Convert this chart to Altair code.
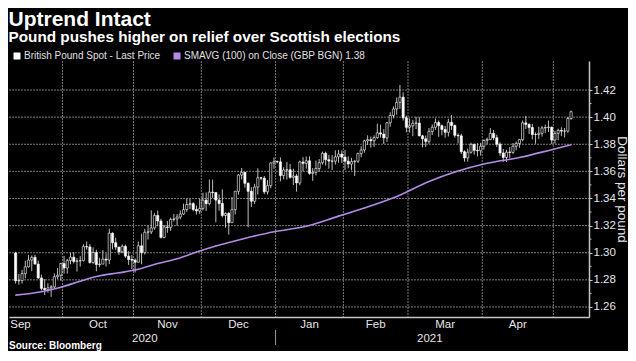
import altair as alt
import pandas as pd

# ---------------- data ----------------
first_open = 1.2998
close = [
    # Sep 2020
    1.2793, 1.2795, 1.2846, 1.2896, 1.2946, 1.2966, 1.2916, 1.2814, 1.2737, 1.2728, 1.2741, 1.2748, 1.2823, 1.2834, 1.2920,
    # Oct
    1.2887, 1.2942, 1.2967, 1.2936, 1.2940, 1.2941, 1.3045, 1.3043, 1.2928, 1.3002, 1.2913, 1.2916, 1.2953, 1.2946, 1.3144,
    1.3074, 1.3042, 1.3007, 1.3047, 1.2975, 1.2950, 1.2945,
    # Nov
    1.2930, 1.3051, 1.3000, 1.3151, 1.3154, 1.3183, 1.3275, 1.3234, 1.3113, 1.3190, 1.3187, 1.3246, 1.3249, 1.3263, 1.3285,
    1.3318, 1.3356, 1.3362, 1.3319, 1.3308, 1.3327,
    # Dec
    1.3388, 1.3362, 1.3447, 1.3444, 1.3388, 1.3363, 1.3275, 1.3290, 1.3222, 1.3318, 1.3453, 1.3573, 1.3593, 1.3512, 1.3453,
    1.3380, 1.3484, 1.3553, 1.3550, 1.3449, 1.3495, 1.3661, 1.3672,
    # Jan 2021
    1.3670, 1.3569, 1.3610, 1.3612, 1.3556, 1.3566, 1.3515, 1.3669, 1.3659, 1.3678, 1.3585, 1.3593, 1.3621, 1.3664, 1.3733,
    1.3686, 1.3676, 1.3675, 1.3707, 1.3728, 1.3705,
    # Feb
    1.3675, 1.3654, 1.3672, 1.3675, 1.3731, 1.3758, 1.3825, 1.3834, 1.3826, 1.3849, 1.3884, 1.3875, 1.3847, 1.3959, 1.4012,
    1.4060, 1.4109, 1.4147, 1.3995, 1.3925,
    # Mar
    1.3936, 1.3955, 1.3956, 1.3862, 1.3840, 1.3821, 1.3895, 1.3925, 1.3960, 1.3937, 1.3909, 1.3888, 1.3962, 1.3938, 1.3866,
    1.3862, 1.3745, 1.3699, 1.3741, 1.3799, 1.3755, 1.3752, 1.3785,
    # Apr
    1.3828, 1.3835, 1.3880, 1.3848, 1.3800, 1.3736, 1.3703, 1.3742, 1.3740, 1.3785, 1.3805, 1.3834, 1.3958, 1.3946, 1.3924,
    1.3872, 1.3872, 1.3881, 1.3920, 1.3923, 1.3926, 1.3831,
    # May
    1.3880, 1.3902, 1.3897, 1.3897, 1.3990, 1.4040,
]
high = [
    1.3007, 1.2843, 1.2874, 1.2941, 1.2984, 1.2980, 1.2985, 1.2942, 1.2838, 1.2805, 1.2775, 1.2761, 1.2848, 1.2887, 1.2926,
    1.2977, 1.2955, 1.2999, 1.3004, 1.2960, 1.2975, 1.3063, 1.3083, 1.3064, 1.3040, 1.3022, 1.2963, 1.3019, 1.2995, 1.3177,
    1.3150, 1.3110, 1.3043, 1.3062, 1.3060, 1.3011, 1.2983,
    1.2958, 1.3083, 1.3140, 1.3176, 1.3200, 1.3313, 1.3292, 1.3312, 1.3250, 1.3205, 1.3234, 1.3259, 1.3286, 1.3285, 1.3311,
    1.3362, 1.3399, 1.3398, 1.3373, 1.3348, 1.3399,
    1.3443, 1.3444, 1.3540, 1.3539, 1.3446, 1.3430, 1.3468, 1.3298, 1.3300, 1.3410, 1.3457, 1.3581, 1.3625, 1.3596, 1.3520,
    1.3483, 1.3508, 1.3623, 1.3560, 1.3566, 1.3535, 1.3667, 1.3703,
    1.3680, 1.3703, 1.3630, 1.3670, 1.3655, 1.3620, 1.3580, 1.3680, 1.3705, 1.3710, 1.3711, 1.3625, 1.3680, 1.3691, 1.3746,
    1.3745, 1.3720, 1.3720, 1.3755, 1.3758, 1.3755,
    1.3758, 1.3710, 1.3700, 1.3683, 1.3738, 1.3785, 1.3833, 1.3866, 1.3857, 1.3865, 1.3952, 1.3945, 1.3912, 1.3965, 1.4036,
    1.4079, 1.4145, 1.4237, 1.4183, 1.4010,
    1.3990, 1.3980, 1.4003, 1.4000, 1.3870, 1.3864, 1.3920, 1.3946, 1.3990, 1.3975, 1.3946, 1.3935, 1.3988, 1.4017, 1.3946,
    1.3880, 1.3877, 1.3755, 1.3768, 1.3811, 1.3805, 1.3808, 1.3810,
    1.3836, 1.3850, 1.3919, 1.3905, 1.3870, 1.3815, 1.3765, 1.3760, 1.3780, 1.3810, 1.3820, 1.3840, 1.3975, 1.4009, 1.3955,
    1.3951, 1.3888, 1.3930, 1.3935, 1.3945, 1.3975, 1.3931,
    1.3900, 1.3915, 1.3925, 1.3920, 1.4000, 1.4048,
]
low = [
    1.2773, 1.2764, 1.2773, 1.2812, 1.2891, 1.2864, 1.2915, 1.2807, 1.2721, 1.2688, 1.2706, 1.2675, 1.2736, 1.2806, 1.2795,
    1.2846, 1.2846, 1.2915, 1.2920, 1.2862, 1.2898, 1.2936, 1.3023, 1.2918, 1.2918, 1.2863, 1.2895, 1.2916, 1.2899, 1.2916,
    1.3025, 1.3021, 1.2984, 1.2996, 1.2962, 1.2910, 1.2880,
    1.2854, 1.2927, 1.2915, 1.2987, 1.3097, 1.3138, 1.3170, 1.3195, 1.3105, 1.3106, 1.3147, 1.3161, 1.3230, 1.3199, 1.3247,
    1.3279, 1.3302, 1.3322, 1.3306, 1.3282, 1.3287,
    1.3312, 1.3308, 1.3350, 1.3405, 1.3225, 1.3310, 1.3260, 1.3185, 1.3134, 1.3222, 1.3282, 1.3428, 1.3540, 1.3480, 1.3188,
    1.3338, 1.3360, 1.3430, 1.3535, 1.3432, 1.3430, 1.3475, 1.3619,
    1.3660, 1.3527, 1.3541, 1.3540, 1.3546, 1.3500, 1.3450, 1.3498, 1.3600, 1.3620, 1.3575, 1.3530, 1.3570, 1.3600, 1.3650,
    1.3643, 1.3619, 1.3610, 1.3650, 1.3664, 1.3662,
    1.3610, 1.3623, 1.3608, 1.3566, 1.3663, 1.3704, 1.3738, 1.3795, 1.3775, 1.3780, 1.3840, 1.3850, 1.3802, 1.3818, 1.3930,
    1.3990, 1.4019, 1.4061, 1.3975, 1.3888,
    1.3887, 1.3860, 1.3912, 1.3858, 1.3777, 1.3780, 1.3803, 1.3869, 1.3906, 1.3855, 1.3866, 1.3848, 1.3857, 1.3905, 1.3848,
    1.3806, 1.3727, 1.3671, 1.3672, 1.3731, 1.3723, 1.3710, 1.3716,
    1.3760, 1.3800, 1.3830, 1.3830, 1.3780, 1.3715, 1.3670, 1.3670, 1.3699, 1.3729, 1.3755, 1.3774, 1.3822, 1.3912, 1.3875,
    1.3836, 1.3804, 1.3838, 1.3856, 1.3884, 1.3890, 1.3800,
    1.3805, 1.3830, 1.3860, 1.3850, 1.3885, 1.3980,
]
# 100-day moving average, read at trading-day positions
sma_idx = [0, 8, 14, 20, 26, 32, 38, 44, 50, 56, 62, 70, 80, 90, 100, 108, 118, 128, 136, 146, 156, 166, 172]
sma_val = [1.2687, 1.2712, 1.2745, 1.2790, 1.2830, 1.2852, 1.2878, 1.2920, 1.2955, 1.3005, 1.3050, 1.3100, 1.3155,
           1.3195, 1.3270, 1.3330, 1.3415, 1.3525, 1.3595, 1.3660, 1.3702, 1.3760, 1.3796]

series_names = ["British Pound Spot - Last Price", "SMAVG (100)  on Close (GBP BGN) 1.38"]
series_colors = ["#ffffff", "#b38ae6"]
y_ticks = [1.26, 1.28, 1.30, 1.32, 1.34, 1.36, 1.38, 1.40, 1.42]
y_minor = [1.27, 1.29, 1.31, 1.33, 1.35, 1.37, 1.39, 1.41]
source_text = "Source: Bloomberg"

# ---------------- tables ----------------
n = len(close)
dates = pd.bdate_range("2020-09-10", periods=n)
df = pd.DataFrame({
    "idx": list(range(n)),
    "date": dates,
    "open": [first_open] + close[:-1],
    "high": high,
    "low": low,
    "close": close,
})
bounds = [i - 0.5 for i in range(1, n) if dates[i].month != dates[i - 1].month]
year_bound = [i - 0.5 for i in range(1, n) if dates[i].year != dates[i - 1].year][0]
x_end = n + 3

mrows = []
for (yy, mm), g in df.groupby([df["date"].dt.year, df["date"].dt.month]):
    first, last = g["idx"].min(), g["idx"].max()
    if last - first < 10 and first > 0:
        continue  # short trailing month is not labelled
    mid = (first + last) / 2
    if first == 0:
        mid = min(mid, first + 1.5)
    mrows.append({"pos": mid, "label": g["date"].iloc[0].strftime("%b")})
months = pd.DataFrame(mrows)
years = pd.DataFrame({
    "pos": [(-0.5 + year_bound) / 2, (year_bound + x_end) / 2],
    "label": [str(dates[0].year), str(dates[-1].year)],
})
sma = pd.DataFrame({"idx": sma_idx, "sma": sma_val, "series": series_names[1]})
grid_x = pd.DataFrame({"pos": bounds})
grid_y = pd.DataFrame({"v": y_ticks})

# ---------------- encodings ----------------
FONT = "Liberation Sans"
GRID = "#7a7a7a"
AXIS = "#c4c4c4"
x_scale = alt.Scale(domain=[-0.5, x_end], nice=False, zero=False)
x_axis = alt.Axis(values=bounds, labels=False, ticks=False, grid=False, domain=True,
                  domainColor=AXIS, domainWidth=1.5, title=None)
y_scale = alt.Scale(domain=[1.2526, 1.4414], nice=False, zero=False)
y_axis = alt.Axis(orient="right", values=y_ticks, format=".2f", labelFont=FONT,
                  labelFontSize=11.5, labelColor="#e6e6e6", labelPadding=1, tickSize=3,
                  tickColor=AXIS, domainColor=AXIS, domainWidth=1.5, grid=False,
                  title="Dollars per pound", titleFont=FONT, titleFontSize=13.5,
                  titleFontWeight="normal", titleColor="#e6e6e6", titleAngle=90,
                  titleBaseline="middle", titleX=32)


def X(field):
    return alt.X(field, type="quantitative", scale=x_scale, axis=x_axis)


def Y(field):
    return alt.Y(field, type="quantitative", scale=y_scale, axis=y_axis)


# dotted grid drawn as rules through the scales (spanning the plot with pixel ends)
vgrid = alt.Chart(grid_x).mark_rule(color=GRID, strokeWidth=1, strokeDash=[2, 1]).encode(
    x=X("pos"), y=alt.value(0), y2=alt.value(256))
hgrid = alt.Chart(grid_y).mark_rule(color=GRID, strokeWidth=1, strokeDash=[2, 1]).encode(
    y=Y("v"), x=alt.value(0), x2=alt.value(580))

base = alt.Chart(df)
wicks = base.mark_rule(color="#eeeeee", strokeWidth=0.8).encode(
    x=X("idx"), y=Y("low"), y2="high")
bodies = base.mark_bar(size=2.2, stroke="#ffffff", strokeWidth=0.6).encode(
    x=X("idx"), y=Y("open"), y2="close",
    fill=alt.condition("datum.close >= datum.open", alt.value("#000000"), alt.value("#ffffff")))
sma_line = alt.Chart(sma).mark_line(color=series_colors[1], strokeWidth=1.6,
                                    interpolate="monotone").encode(x=X("idx"), y=Y("sma"))
legend_carrier = alt.Chart(sma).mark_square(size=1, opacity=1).encode(
    x=X("idx"), y=Y("sma"),
    color=alt.Color("series:N", scale=alt.Scale(domain=series_names, range=series_colors),
                    legend=alt.Legend(orient="none", legendX=3, legendY=-10,
                                      direction="horizontal", title=None,
                                      symbolType="square", symbolSize=49,
                                      symbolStrokeWidth=0, labelFont=FONT,
                                      labelFontSize=10, labelColor="#e0e0e0",
                                      labelLimit=0, columnPadding=11, labelOffset=2,
                                      padding=0)))
minor_ticks = alt.Chart(pd.DataFrame({"v": y_minor})).mark_rule(
    color=AXIS, strokeWidth=1).encode(y=Y("v"), x=alt.value(580), x2=alt.value(582.5))
month_text = alt.Chart(months).mark_text(font=FONT, fontSize=11.5, color="#e6e6e6",
                                         baseline="middle").encode(
    x=X("pos"), y=alt.value(264), text="label:N")
year_text = alt.Chart(years).mark_text(font=FONT, fontSize=11.5, color="#e6e6e6",
                                       baseline="middle").encode(
    x=X("pos"), y=alt.value(278), text="label:N")
year_rule = alt.Chart(pd.DataFrame({"pos": [year_bound]})).mark_rule(
    color="#9a9a9a", strokeWidth=1).encode(x=X("pos"), y=alt.value(269), y2=alt.value(284))
source = alt.Chart(pd.DataFrame({"t": [source_text]})).mark_text(
    font=FONT, fontWeight="bold", fontSize=10, color="#ffffff", align="left",
    baseline="middle").encode(x=alt.value(0), y=alt.value(285), text="t:N")

chart = alt.layer(
    vgrid, hgrid, wicks, bodies, sma_line, legend_carrier, minor_ticks,
    month_text, year_text, year_rule, source
).properties(
    width=580, height=256, background="#000000", padding=0,
    title=alt.TitleParams(
        text="Uptrend Intact",
        subtitle="Pound pushes higher on relief over Scottish elections",
        anchor="start", font=FONT, fontSize=21, fontWeight="bold", color="#ffffff",
        subtitleFont=FONT, subtitleFontSize=15.3, subtitleFontWeight="bold",
        subtitleColor="#ffffff", subtitlePadding=0, offset=6),
).configure_view(stroke=None)

chart.save("out.html", embed_options={"renderer": "svg", "actions": False})
